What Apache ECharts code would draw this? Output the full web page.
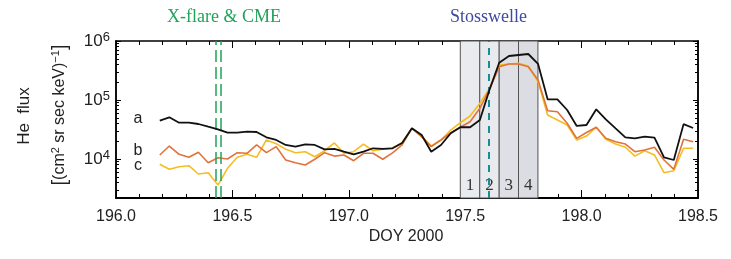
<!DOCTYPE html>
<html>
<head>
<meta charset="utf-8">
<script src="https://cdn.jsdelivr.net/npm/echarts@6/dist/echarts.min.js"></script>
<style>html,body{margin:0;padding:0;background:#fff;}#c{width:731px;height:259px;}</style>
</head>
<body>
<div id="c"></div>
<script>
// ---- data ----
const doy = [196.188,196.229,196.271,196.313,196.354,196.396,196.438,196.479,196.521,196.563,
  196.604,196.646,196.688,196.729,196.771,196.813,196.854,196.896,196.938,196.979,
  197.021,197.063,197.104,197.146,197.188,197.229,197.271,197.313,197.354,197.396,
  197.438,197.479,197.521,197.563,197.604,197.646,197.688,197.729,197.771,197.813,
  197.854,197.896,197.938,197.979,198.021,198.063,198.104,198.146,198.188,198.229,
  198.271,198.313,198.354,198.396,198.438,198.479];
const fluxA = [44600,50900,41200,41200,39200,35300,31900,27900,27900,29000,
  28700,23300,21000,17300,16200,17700,17300,14600,14800,13300,
  12000,13300,15200,14800,15200,18700,33100,25500,13300,17300,
  27300,34500,34500,45800,147700,428500,557000,579000,602000,407700,
  102800,102800,67700,36300,37700,69600,47100,33100,23300,22400,
  23900,23000,10700,9620,39000,33500];
const fluxB = [11700,16600,12000,10700,13000,8650,10500,10000,12800,12500,
  17300,12800,16200,9620,8650,7910,9890,12800,11200,11700,
  9360,12500,12500,9890,12700,17300,33100,23900,16200,21000,
  27900,34500,42900,72300,150700,366600,407700,407700,366600,218300,
  65900,63400,40300,22400,28100,34500,22400,19600,17900,13300,
  14200,15800,9620,6690,21600,19600];
const fluxC = [8130,6690,7400,7700,5570,5860,3620,6950,10700,12000,
  10700,21000,18200,14600,12800,13300,10900,13800,18700,12500,
  13300,17900,13800,14600,15500,18900,33100,23900,16600,21000,
  31000,41200,53500,87900,157800,391700,407700,418800,376900,204200,
  55700,45800,37700,21000,24500,34500,21600,17900,15800,11200,
  13800,11700,5860,6340,15200,15200];
const phaseEdges = [197.479,197.5625,197.646,197.729,197.8125];
const phaseNames = ['1','2','3','4'];
const flareLines = [196.434,196.452];
const shockLine = 197.600;
const yMajorTicks = [1e4,1e5,1e6];
const yMinorTicks = [3e3,4e3,5e3,6e3,7e3,8e3,9e3,2e4,3e4,4e4,5e4,6e4,7e4,8e4,9e4,2e5,3e5,4e5,5e5,6e5,7e5,8e5,9e5];
const xMin = 196.0, xMax = 198.5, yMin = 2183, yMax = 1e6;

// ---- chart ----
const chart = echarts.init(document.getElementById('c'), null, {renderer:'canvas'});
const sans = 'Liberation Sans';
const serif = 'Liberation Serif';
const pair = arr => doy.map((d,i)=>[d, arr[i]]);

const areaCols = ['#eaebef','#e9eaee','#dfe0e5','#dcdde2'];
const areas = phaseNames.map((n,i)=>[
  {xAxis: phaseEdges[i], name: n, itemStyle:{color: areaCols[i], borderColor:'#555', borderWidth:1}},
  {xAxis: phaseEdges[i+1]}
]);

function yAxisDef(pos, values, len, showLabel){
  return {
    type:'log', logBase:10, min:yMin, max:yMax, position:pos,
    axisLine:{show:true, onZero:false, lineStyle:{color:'#000', width:1.5}},
    axisTick:{show:true, inside:true, length:len, customValues:values, lineStyle:{color:'#000', width:1}},
    axisLabel:{show:showLabel, customValues:values, margin:6,
      formatter: v => '{b|10}{s|' + Math.round(Math.log10(v)) + '}',
      rich:{b:{fontFamily:sans, fontSize:17, color:'#222', lineHeight:20},
            s:{fontFamily:sans, fontSize:13, color:'#222', lineHeight:13, verticalAlign:'top'}}},
    splitLine:{show:false}, minorTick:{show:false}
  };
}
function xAxisDef(pos, showLabel, len){
  return {
    type:'value', min:xMin, max:xMax, interval:0.5, position:pos,
    axisLine:{show:true, onZero:false, lineStyle:{color:'#000', width: pos==='bottom'?2:1.5}},
    axisTick:{show:true, inside:true, length:len, lineStyle:{color:'#000', width:1}},
    minorTick:{show:true, splitNumber:5, length:4, lineStyle:{color:'#000', width:1}},
    axisLabel:{show:showLabel, margin:11, fontFamily:sans, fontSize:16, color:'#222',
      formatter: v => v.toFixed(1)},
    splitLine:{show:false}
  };
}

const option = {
  animation:false,
  backgroundColor:'#fff',
  grid:{left:116, right:33, top:41, bottom:61, containLabel:false},
  xAxis:[xAxisDef('bottom', true, 8), xAxisDef('top', false, 7)],
  yAxis:[yAxisDef('left', yMajorTicks, 5, true), yAxisDef('left', yMinorTicks, 3, false),
         yAxisDef('right', yMajorTicks, 5, false), yAxisDef('right', yMinorTicks, 3, false)],
  series:[
    {type:'line', name:'phases', data:[], z:1, xAxisIndex:0, yAxisIndex:0,
     markArea:{silent:true, label:{show:true, position:'insideBottom', distance:4,
       fontFamily:serif, fontSize:17, color:'#333'}, data: areas},
     markLine:{silent:true, symbol:['none','none'], label:{show:false},
       data:[
         {xAxis: flareLines[0], lineStyle:{color:'#21a356', width:1.5, type:[12,5]}},
         {xAxis: flareLines[1], lineStyle:{color:'#21a356', width:1.5, type:[12,5]}},
         {xAxis: shockLine, lineStyle:{color:'#178d98', width:2, type:[7,6]}}
       ]}},
    {type:'line', name:'c', data:pair(fluxC), symbol:'none', z:3, xAxisIndex:0, yAxisIndex:0,
     lineStyle:{color:'#f6bd22', width:1.6}},
    {type:'line', name:'b', data:pair(fluxB), symbol:'none', z:4, xAxisIndex:0, yAxisIndex:0,
     lineStyle:{color:'#e0733a', width:1.6}},
    {type:'line', name:'a', data:pair(fluxA), symbol:'none', z:5, xAxisIndex:0, yAxisIndex:0,
     lineStyle:{color:'#111', width:1.8}}
  ],
  graphic:[
    {type:'text', left:167, top:8, style:{text:'X-flare & CME', fontFamily:serif, fontSize:18, fill:'#22a35a'}},
    {type:'text', left:450, top:8, style:{text:'Stosswelle', fontFamily:serif, fontSize:18, fill:'#3f4a9e'}},
    {type:'text', x:406, y:237, style:{text:'DOY 2000', fontFamily:sans, fontSize:16, fill:'#222', align:'center', verticalAlign:'middle'}},
    {type:'text', x:24, y:116, rotation:Math.PI/2, style:{text:'He  flux', fontFamily:sans, fontSize:17, fill:'#222', align:'center', verticalAlign:'middle'}},
    {type:'text', x:60, y:115, rotation:Math.PI/2, style:{
      text:'{br|[}{n|(cm}{s|2}{n| sr sec keV)}{s|−1}{br|]}', align:'center', verticalAlign:'middle',
      rich:{n:{fontFamily:sans, fontSize:16, fill:'#222', color:'#222', lineHeight:20},
            br:{fontFamily:sans, fontSize:20, fill:'#222', color:'#222', lineHeight:20},
            s:{fontFamily:sans, fontSize:11, fill:'#222', color:'#222', lineHeight:11, verticalAlign:'top'}}}},
    {type:'text', x:138, y:119, style:{text:'a', fontFamily:sans, fontSize:16, fill:'#222', align:'center', verticalAlign:'middle'}},
    {type:'text', x:138, y:151, style:{text:'b', fontFamily:sans, fontSize:16, fill:'#222', align:'center', verticalAlign:'middle'}},
    {type:'text', x:138, y:166, style:{text:'c', fontFamily:sans, fontSize:16, fill:'#222', align:'center', verticalAlign:'middle'}}
  ]
};
chart.setOption(option);
</script>
</body>
</html>
